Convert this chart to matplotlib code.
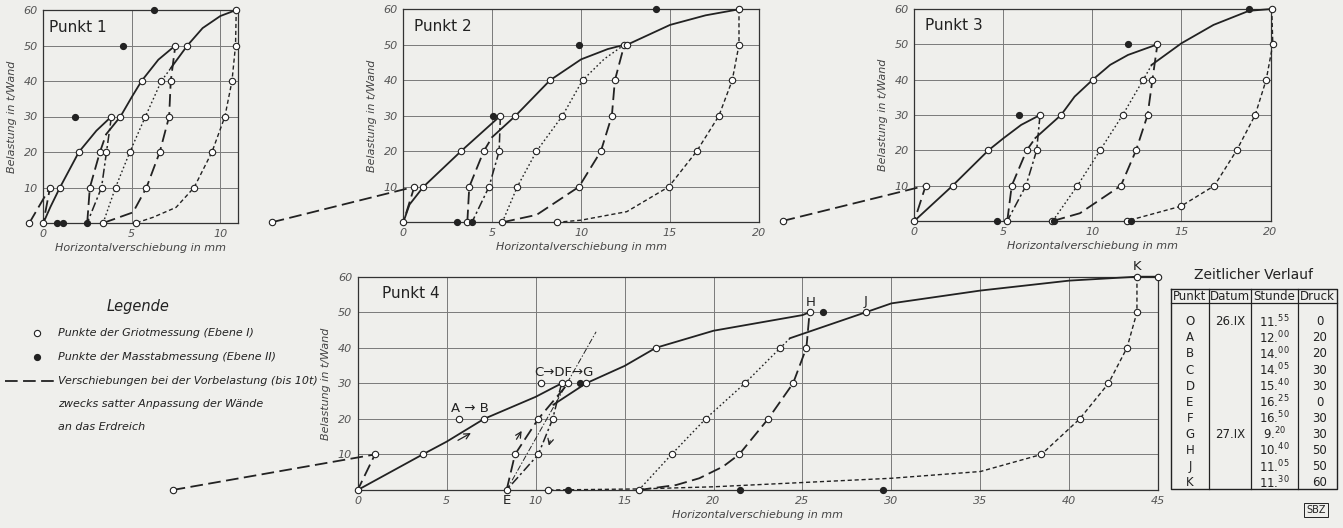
import matplotlib
matplotlib.use('Agg')
import matplotlib.pyplot as plt

# ---- Punkt 1 (x in mm, y in t/Wand) ----
p1_vor = [(-0.79, 0), (0.38, 10), (0, 0)]
p1_erst = [(0, 0), (0.4, 4.5), (0.94, 10), (2.01, 20), (3.0, 26), (3.85, 30)]
p1_ent1 = [(3.85, 30), (3.57, 20), (3.29, 10), (2.48, 0)]
p1_wied1 = [(2.48, 0), (2.63, 10), (3.2, 20), (3.55, 25)]
p1_zweit = [(3.55, 25), (4.36, 30), (5.0, 35.5), (5.55, 40), (6.5, 46), (7.46, 50)]
p1_dritt = [(7.2, 43.6), (8.14, 50), (9.0, 54.9), (10.0, 58.3), (10.9, 60)]
p1_punkt = [(3.38, 0), (4.08, 10), (4.89, 20), (5.77, 30), (6.67, 40), (7.2, 43.6)]
p1_ent2 = [(3.38, 0), (5.07, 3), (5.83, 10), (6.58, 20), (7.11, 30), (7.2, 40), (7.46, 50)]
p1_ent3 = [(10.9, 60), (10.86, 50), (10.66, 40), (10.26, 30), (9.53, 20), (8.52, 10),
           (7.5, 4.4), (6.2, 1.6), (5.23, 0)]
p1_offen = [(-0.79, 0), (0, 0), (3.38, 0), (5.23, 0), (0.38, 10), (0.94, 10), (2.63, 10),
            (3.29, 10), (4.08, 10), (5.83, 10), (8.52, 10), (2.01, 20), (3.2, 20), (3.57, 20),
            (4.89, 20), (6.58, 20), (9.53, 20), (3.85, 30), (4.36, 30), (5.77, 30), (7.11, 30),
            (10.26, 30), (5.55, 40), (6.67, 40), (7.2, 40), (10.66, 40), (7.46, 50), (8.14, 50),
            (10.86, 50), (10.9, 60)]
p1_voll = [(0.75, 0), (1.09, 0), (2.48, 0), (1.79, 30), (4.51, 50), (6.26, 60)]

# ---- Punkt 2 ----
p2_vor = [(-7.4, 0), (0.62, 10), (0, 0)]
p2_erst = [(0, 0), (0.35, 5), (1.13, 10), (3.24, 20), (5.46, 30)]
p2_ent1 = [(5.46, 30), (5.39, 20), (4.82, 10), (3.86, 0)]
p2_wied1 = [(3.6, 0), (3.71, 10), (4.52, 20), (5.0, 24)]
p2_zweit = [(5.0, 24), (6.31, 30), (8.25, 40), (10.0, 45.9), (11.5, 48.8), (12.43, 50)]
p2_dritt = [(12.58, 50), (15.0, 55.6), (17.0, 58.3), (18.88, 60)]
p2_punkt = [(5.57, 0), (6.41, 10), (7.49, 20), (8.95, 30), (10.08, 40), (11.3, 46), (12.43, 50)]
p2_ent2 = [(5.57, 0), (7.5, 2.1), (9.88, 10), (11.11, 20), (11.73, 30), (11.9, 40), (12.43, 50)]
p2_ent3 = [(18.88, 60), (18.88, 50), (18.5, 40), (17.75, 30), (16.5, 20), (14.93, 10),
           (12.57, 3.0), (10.0, 0.6), (8.63, 0)]
p2_offen = [(-7.4, 0), (0, 0), (3.6, 0), (5.57, 0), (8.63, 0), (0.62, 10), (1.13, 10),
            (3.71, 10), (4.82, 10), (6.41, 10), (9.88, 10), (14.93, 10), (3.24, 20), (4.52, 20),
            (5.39, 20), (7.49, 20), (11.11, 20), (16.5, 20), (5.46, 30), (6.31, 30), (8.95, 30),
            (11.73, 30), (17.75, 30), (8.25, 40), (10.08, 40), (11.9, 40), (18.5, 40),
            (12.43, 50), (12.58, 50), (18.88, 50), (18.88, 60)]
p2_voll = [(3.04, 0), (3.86, 0), (5.03, 30), (9.89, 50), (14.2, 60)]

# ---- Punkt 3 ----
p3_vor = [(-7.4, 0), (0.64, 10), (0, 0)]
p3_erst = [(0, 0), (2.15, 10), (4.16, 20), (5.0, 23.4), (6.0, 27.2), (7.06, 30)]
p3_ent1 = [(7.06, 30), (6.87, 20), (6.27, 10), (5.22, 0)]
p3_wied1 = [(5.22, 0), (5.47, 10), (6.31, 20), (6.8, 23.5)]
p3_zweit = [(6.8, 23.5), (8.24, 30), (9.0, 35.2), (10.02, 40), (11.0, 44.2), (12.0, 47.0),
            (13.65, 50)]
p3_dritt = [(13.33, 44.2), (15.0, 50.3), (16.8, 55.5), (18.8, 59.5), (20.07, 60)]
p3_punkt = [(7.77, 0), (9.16, 10), (10.43, 20), (11.7, 30), (12.86, 40), (13.33, 44.2)]
p3_ent2 = [(7.77, 0), (9.3, 2.2), (11.6, 10), (12.45, 20), (13.1, 30), (13.37, 40), (13.65, 50)]
p3_ent3 = [(20.07, 60), (20.13, 50), (19.76, 40), (19.14, 30), (18.1, 20), (16.85, 10),
           (14.98, 4.2), (11.93, 0)]
p3_offen = [(-7.4, 0), (0, 0), (5.22, 0), (7.75, 0), (11.93, 0), (0.64, 10), (2.15, 10),
            (5.47, 10), (6.27, 10), (9.16, 10), (11.6, 10), (16.85, 10), (14.98, 4.2),
            (4.16, 20), (6.31, 20), (6.87, 20), (10.43, 20), (12.45, 20), (18.1, 20), (7.06, 30),
            (8.24, 30), (11.7, 30), (13.1, 30), (19.14, 30), (10.02, 40), (12.86, 40),
            (13.37, 40), (19.76, 40), (13.65, 50), (20.13, 50), (20.07, 60)]
p3_voll = [(4.63, 0), (7.85, 0), (12.16, 0), (5.9, 30), (12.02, 50), (18.8, 60)]

# ---- Punkt 4 ----
p4_vor = [(-10.4, 0), (0.97, 10), (0, 0)]
p4_erst = [(0, 0), (3.65, 10), (5.0, 13.6), (7.1, 20), (10.0, 26.2), (11.46, 30)]
p4_ent1 = [(11.46, 30), (10.96, 20), (10.15, 10), (8.37, 0)]
p4_wied1 = [(8.37, 0), (8.84, 10), (10.15, 20), (11.83, 30)]
p4_gerade = [(8.37, 0), (13.4, 44.5)]
p4_zweit = [(11.0, 24), (12.83, 30), (15.0, 34.9), (16.76, 40), (20.0, 44.8), (25.0, 49.2),
            (25.4, 50)]
p4_dritt = [(24.3, 42.7), (28.56, 50), (30, 52.5), (35, 56.1), (40, 58.9), (43.8, 60), (45, 60)]
p4_punkt = [(15.8, 0), (17.64, 10), (19.55, 20), (21.76, 30), (23.76, 40), (24.3, 42.7)]
p4_ent2 = [(15.8, 0), (17.9, 1.4), (19.2, 3.3), (20.54, 6.6), (21.44, 10), (23.07, 20),
           (24.47, 30), (25.22, 40), (25.4, 50)]
p4_ent3 = [(43.8, 60), (43.8, 50), (43.24, 40), (42.2, 30), (40.58, 20), (38.43, 10),
           (35, 5.2), (30, 3.3), (25, 2.1), (20, 0.9), (15.8, 0.3), (10.71, 0)]
p4_offen = [(-10.4, 0), (0, 0), (8.37, 0), (10.71, 0), (15.8, 0), (0.97, 10), (3.65, 10),
            (8.84, 10), (10.15, 10), (17.64, 10), (21.44, 10), (38.43, 10), (5.71, 20),
            (7.1, 20), (10.15, 20), (10.96, 20), (19.55, 20), (23.07, 20), (40.58, 20),
            (10.3, 30), (11.46, 30), (11.83, 30), (12.83, 30), (21.76, 30), (24.47, 30),
            (42.2, 30), (16.76, 40), (23.76, 40), (25.22, 40), (43.24, 40), (25.4, 50),
            (28.56, 50), (43.8, 50), (43.8, 60), (45, 60)]
p4_voll = [(11.8, 0), (21.48, 0), (29.53, 0), (12.49, 30), (26.16, 50)]

# Zeitlicher Verlauf
tab_punkt = ['O', 'A', 'B', 'C', 'D', 'E', 'F', 'G', 'H', 'J', 'K']
tab_datum = ['26.IX', '', '', '', '', '', '', '27.IX', '', '', '']
tab_stunde = [('11', '55'), ('12', '00'), ('14', '00'), ('14', '05'), ('15', '40'), ('16', '25'),
              ('16', '50'), ('9', '20'), ('10', '40'), ('11', '05'), ('11', '30')]
tab_druck = [0, 20, 20, 30, 30, 0, 30, 30, 50, 50, 60]

W, H = 1343, 528
BG = '#efefec'
INK = '#222222'

STYLE = {
    'voll': dict(linestyle='-', lw=1.3),
    'lang': dict(dashes=(7, 3), lw=1.3),
    'strichpunkt': dict(dashes=(6, 2, 1.5, 2), lw=1.1),
    'punkt': dict(dashes=(1.2, 1.8), lw=1.0),
    'fein': dict(dashes=(3, 2), lw=1.0),
    'gerade': dict(dashes=(6, 2, 1.5, 2), lw=0.7),
}


def box(left, top, right, bottom):
    return [left / W, 1 - bottom / H, (right - left) / W, (bottom - top) / H]


def panel(rect, xmax, title, curves, offen, voll):
    ax = fig.add_axes(rect)
    ax.set_facecolor(BG)
    ax.set_xlim(0, xmax)
    ax.set_ylim(0, 60)
    ax.set_xticks(range(0, xmax + 1, 5))
    ax.set_yticks(range(10, 61, 10))
    ax.grid(True, color='#7a7a7a', lw=0.7)
    ax.set_axisbelow(True)
    for s in ax.spines.values():
        s.set_color('#333333')
        s.set_linewidth(0.9)
    ax.tick_params(length=0, labelsize=8, labelcolor='#555555', pad=4)
    for lab in ax.get_xticklabels() + ax.get_yticklabels():
        lab.set_fontstyle('italic')
    ax.set_xlabel('Horizontalverschiebung in mm', fontsize=8, fontstyle='italic',
                  color='#444444', labelpad=3)
    ax.set_ylabel('Belastung in t/Wand', fontsize=8, fontstyle='italic',
                  color='#444444', labelpad=5)
    for pts, key in curves:
        xs = [p[0] for p in pts]
        ys = [p[1] for p in pts]
        ax.plot(xs, ys, color=INK, clip_on=False, zorder=3, **STYLE[key])
    ax.plot([p[0] for p in offen], [p[1] for p in offen], 'o', ms=4.6, mfc='white',
            mec=INK, mew=0.8, clip_on=False, zorder=5)
    ax.plot([p[0] for p in voll], [p[1] for p in voll], 'o', ms=4.2, color=INK,
            clip_on=False, zorder=5)
    ax.text(0.03, 0.92, title, transform=ax.transAxes, fontsize=11, color=INK,
            ha='left', va='center')
    return ax


fig = plt.figure(figsize=(W / 100, H / 100), dpi=100, facecolor=BG)

panel(box(43.3, 10, 238, 223), 11, 'Punkt 1',
      [(p1_vor, 'lang'), (p1_erst, 'voll'), (p1_ent1, 'strichpunkt'), (p1_wied1, 'lang'),
       (p1_zweit, 'voll'), (p1_dritt, 'voll'), (p1_punkt, 'punkt'), (p1_ent2, 'lang'),
       (p1_ent3, 'fein')], p1_offen, p1_voll)
panel(box(403.3, 9.3, 758.9, 222.3), 20, 'Punkt 2',
      [(p2_vor, 'lang'), (p2_erst, 'voll'), (p2_ent1, 'strichpunkt'), (p2_wied1, 'lang'),
       (p2_zweit, 'voll'), (p2_dritt, 'voll'), (p2_punkt, 'punkt'), (p2_ent2, 'lang'),
       (p2_ent3, 'fein')], p2_offen, p2_voll)
panel(box(914.3, 9, 1270.5, 221), 20, 'Punkt 3',
      [(p3_vor, 'lang'), (p3_erst, 'voll'), (p3_ent1, 'strichpunkt'), (p3_wied1, 'lang'),
       (p3_zweit, 'voll'), (p3_dritt, 'voll'), (p3_punkt, 'punkt'), (p3_ent2, 'lang'),
       (p3_ent3, 'fein')], p3_offen, p3_voll)
ax4 = panel(box(357.7, 276.7, 1158.3, 490), 45, 'Punkt 4',
            [(p4_vor, 'lang'), (p4_erst, 'voll'), (p4_ent1, 'strichpunkt'), (p4_wied1, 'lang'),
             (p4_gerade, 'gerade'), (p4_zweit, 'voll'), (p4_dritt, 'voll'), (p4_punkt, 'punkt'),
             (p4_ent2, 'lang'), (p4_ent3, 'fein')], p4_offen, p4_voll)

# Beschriftung Punkt 4
for txt, x, y in [('A → B', 6.3, 22.8), ('C→DF→G', 11.6, 33.0), ('H', 25.45, 52.8),
                  ('J', 28.56, 53.0), ('K', 43.8, 63.0)]:
    ax4.text(x, y, txt, fontsize=9.5, color=INK, ha='center', va='center', zorder=6)
ax4.text(8.37, -3.0, 'E', fontsize=9.5, color=INK, ha='center', va='center', clip_on=False)
arr = dict(arrowstyle='->', color=INK, lw=0.9)
ax4.annotate('', xy=(6.5, 16.4), xytext=(5.5, 13.6), arrowprops=arr)
ax4.annotate('', xy=(9.3, 17.3), xytext=(8.84, 13.6), arrowprops=arr)
ax4.annotate('', xy=(10.7, 11.7), xytext=(10.86, 14.6), arrowprops=arr)

# Overlay in Pixelkoordinaten fuer Legende und Tabelle
ov = fig.add_axes([0, 0, 1, 1])
ov.set_xlim(0, W)
ov.set_ylim(H, 0)
ov.axis('off')
ov.patch.set_alpha(0)

ov.text(138, 306, 'Legende', fontsize=10.5, fontstyle='italic', color=INK,
        ha='center', va='center')
ov.plot(37, 333, 'o', ms=4.5, mfc='white', mec=INK, mew=0.8)
ov.plot(37, 357, 'o', ms=4.2, color=INK)
ov.plot([5, 57], [381, 381], color=INK, dashes=(7, 3), lw=1.3)
leg = [(333, 'Punkte der Griotmessung (Ebene I)'),
       (357, 'Punkte der Masstabmessung (Ebene II)'),
       (381, 'Verschiebungen bei der Vorbelastung (bis 10t)'),
       (404, 'zwecks satter Anpassung der Wände'),
       (427, 'an das Erdreich')]
for y, t in leg:
    ov.text(58, y, t, fontsize=8, fontstyle='italic', color=INK, ha='left', va='center')

# Tabelle
ov.text(1254, 275, 'Zeitlicher Verlauf', fontsize=10, color=INK, ha='center', va='center')
tl, tr, tt, th, tb = 1170.7, 1336.7, 289, 303.3, 489.3
cols = [1170.7, 1209.3, 1250.7, 1298.3, 1336.7]
ov.plot([tl, tr, tr, tl, tl], [tt, tt, tb, tb, tt], color=INK, lw=1.0)
ov.plot([tl, tr], [th, th], color=INK, lw=0.9)
for cx in cols[1:-1]:
    ov.plot([cx, cx], [tt, tb], color=INK, lw=0.9)
centers = [(cols[i] + cols[i + 1]) / 2 for i in range(4)]
for cx, t in zip(centers, ['Punkt', 'Datum', 'Stunde', 'Druck']):
    ov.text(cx, 296, t, fontsize=8.5, color=INK, ha='center', va='center')
for i in range(len(tab_punkt)):
    y = 321.7 + i * 16.1
    ov.text(centers[0], y, tab_punkt[i], fontsize=8.5, color=INK, ha='center', va='center')
    ov.text(centers[1], y, tab_datum[i], fontsize=8.5, color=INK, ha='center', va='center')
    h, m = tab_stunde[i]
    ov.text(centers[2], y, h + '.' + r'$^{\mathregular{' + m + '}}$', fontsize=8.5,
            color=INK, ha='center', va='center')
    ov.text(centers[3] + 2, y, str(tab_druck[i]), fontsize=8.5, color=INK,
            ha='center', va='center')

ov.text(1316, 510, 'SBZ', fontsize=7, color=INK, ha='center', va='center',
        bbox=dict(boxstyle='square,pad=0.2', fc='none', ec=INK, lw=0.7))

fig.savefig('out.png', dpi=100, facecolor=BG)
